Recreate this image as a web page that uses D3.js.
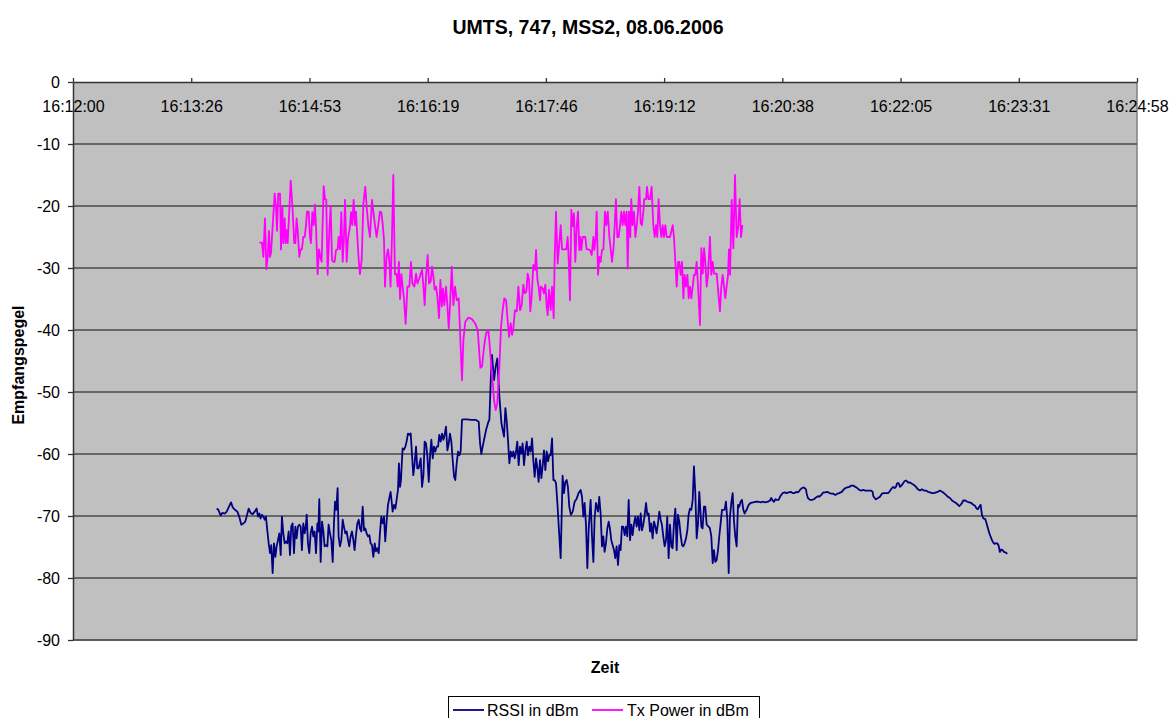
<!DOCTYPE html>
<html><head><meta charset="utf-8">
<script src="https://cdn.jsdelivr.net/npm/d3@7"></script>
<style>body{margin:0;background:#fff}svg{display:block}text{font-family:Arial,"Liberation Sans",sans-serif;fill:#000}</style>
</head><body><svg id="c" width="1176" height="718"></svg>
<script>
const chartTitle = "UMTS, 747, MSS2, 08.06.2006";
const yTitle = "Empfangspegel";
const xTitle = "Zeit";
const seriesNames = ["RSSI in dBm", "Tx Power in dBm"];
const seriesColors = ["#000080", "#FF00FF"];
const yTicks = [0, -10, -20, -30, -40, -50, -60, -70, -80, -90];
// seconds after 16:12:00
const xTickSeconds = [0, 86.4, 172.8, 259.2, 345.6, 432, 518.4, 604.8, 691.2, 777.6];
const xTickLabels = ["16:12:00", "16:13:26", "16:14:53", "16:16:19", "16:17:46", "16:19:12", "16:20:38", "16:22:05", "16:23:31", "16:24:58"];

// [seconds after 16:12:00, dBm]
const rssi = [
[105.0,-68.8],[106.2,-69.0],[107.9,-69.9],[109.1,-69.5],[111.1,-69.6],[112.3,-69.3],[114.0,-68.5],[115.5,-67.8],[116.7,-68.6],[118.4,-69.0],[120.1,-69.3],[121.5,-70.1],[123.0,-71.4],[124.5,-71.2],[125.9,-70.9],[126.9,-70.1],[128.4,-68.8],[129.8,-69.5],[131.3,-69.7],[132.8,-69.3],[134.2,-68.8],[135.2,-70.1],[136.2,-69.6],[137.1,-70.4],[138.1,-69.8],[139.1,-70.1],[140.1,-70.6],[141.0,-70.1],[142.0,-72.3],[143.0,-74.4],[144.0,-76.0],[144.9,-74.7],[145.9,-79.2],[146.9,-74.4],[147.9,-76.6],[148.8,-74.9],[149.8,-73.9],[150.8,-72.8],[151.8,-76.3],[152.7,-70.1],[153.7,-72.8],[154.7,-74.4],[155.6,-74.1],[156.6,-74.4],[157.6,-72.5],[158.6,-76.3],[159.5,-71.7],[160.5,-71.2],[161.5,-76.0],[162.5,-71.7],[163.4,-73.6],[164.4,-71.7],[165.4,-71.4],[166.4,-71.7],[167.3,-75.5],[168.3,-71.2],[169.3,-72.8],[170.0,-72.0],[170.8,-69.8],[171.7,-74.4],[172.7,-76.0],[173.7,-72.8],[174.7,-71.7],[175.6,-73.3],[176.6,-72.5],[177.6,-76.0],[178.6,-71.2],[179.3,-72.5],[180.0,-67.3],[181.0,-77.4],[182.0,-70.9],[182.9,-72.3],[183.9,-74.9],[184.9,-74.7],[185.9,-74.9],[186.8,-71.4],[187.8,-72.8],[188.8,-73.9],[189.8,-77.4],[190.7,-71.2],[191.5,-67.7],[192.4,-69.0],[193.4,-65.5],[194.1,-73.3],[195.1,-74.9],[196.1,-73.9],[197.1,-70.6],[198.0,-71.7],[199.0,-72.8],[200.0,-72.5],[201.0,-73.9],[201.9,-74.9],[202.9,-73.3],[203.9,-72.5],[204.9,-73.9],[205.8,-75.5],[206.8,-73.1],[207.8,-71.2],[208.8,-70.6],[209.7,-72.0],[210.7,-72.5],[211.7,-68.5],[212.7,-72.3],[213.6,-72.0],[214.6,-72.8],[215.6,-73.3],[216.6,-73.1],[217.5,-74.4],[218.5,-74.7],[219.5,-76.6],[220.5,-74.4],[221.4,-75.7],[222.4,-75.2],[223.4,-76.0],[224.3,-72.8],[225.3,-70.1],[226.3,-71.2],[227.3,-70.1],[228.2,-74.1],[229.2,-70.9],[230.2,-68.2],[231.2,-67.1],[232.1,-66.1],[232.9,-67.7],[233.6,-69.3],[234.6,-68.2],[235.6,-68.8],[236.5,-67.4],[237.5,-65.8],[238.2,-61.5],[239.0,-65.3],[239.7,-64.2],[240.4,-61.0],[240.9,-59.1],[241.9,-59.3],[242.9,-58.8],[243.8,-58.0],[244.8,-56.7],[245.8,-56.9],[246.8,-56.7],[247.7,-59.9],[248.7,-63.4],[249.7,-61.5],[250.7,-58.8],[251.6,-62.3],[252.6,-62.3],[254.1,-60.7],[255.1,-65.3],[256.1,-63.4],[257.0,-58.0],[258.0,-58.3],[259.0,-60.4],[260.0,-64.5],[260.9,-60.4],[261.9,-57.7],[262.9,-60.7],[263.8,-58.8],[264.8,-59.6],[265.8,-58.8],[266.8,-58.8],[267.7,-56.9],[268.7,-58.0],[269.7,-56.7],[270.7,-57.7],[271.6,-56.9],[272.6,-55.6],[273.6,-59.4],[274.6,-58.3],[275.5,-56.7],[276.5,-58.0],[277.5,-61.0],[278.5,-63.7],[279.4,-64.2],[280.4,-61.5],[281.4,-59.6],[282.4,-60.2],[283.3,-59.6],[284.3,-54.5],[285.3,-54.4],[287.7,-54.4],[291.4,-54.5],[294.5,-54.5],[296.5,-54.8],[297.5,-58.3],[298.4,-60.0],[299.4,-58.8],[300.4,-57.7],[301.9,-56.1],[303.6,-54.8],[304.3,-54.5],[305.3,-48.1],[306.2,-44.0],[307.7,-48.1],[308.9,-45.9],[310.1,-44.6],[311.6,-50.7],[313.1,-55.0],[314.0,-56.1],[315.0,-57.2],[316.0,-52.6],[317.0,-54.8],[317.9,-57.7],[318.9,-61.5],[319.9,-59.6],[320.9,-60.4],[321.8,-59.6],[322.8,-60.7],[323.8,-59.6],[324.7,-58.0],[325.7,-61.8],[326.7,-58.8],[327.7,-59.9],[328.6,-58.3],[329.6,-61.8],[330.6,-59.4],[331.6,-58.0],[332.5,-60.2],[333.5,-58.8],[334.5,-59.6],[335.5,-57.5],[336.4,-61.0],[337.4,-63.7],[338.4,-60.7],[339.4,-62.3],[340.3,-64.5],[341.3,-61.0],[342.3,-63.9],[343.3,-61.8],[344.2,-59.4],[345.2,-62.6],[346.2,-59.6],[347.2,-61.2],[348.1,-60.2],[349.1,-60.2],[350.1,-57.5],[351.1,-64.2],[352.0,-64.2],[353.0,-64.7],[354.0,-67.9],[355.0,-71.7],[356.4,-76.8],[357.8,-63.5],[358.8,-66.3],[359.8,-64.5],[360.8,-64.2],[361.7,-65.3],[362.7,-68.5],[363.9,-69.8],[365.2,-69.3],[366.6,-67.7],[368.1,-67.2],[369.5,-66.3],[371.0,-65.8],[372.0,-66.9],[373.0,-70.1],[373.9,-67.9],[374.9,-71.4],[375.9,-78.4],[376.9,-72.0],[378.3,-67.4],[379.3,-73.3],[380.3,-77.4],[381.2,-70.4],[382.2,-67.9],[383.7,-69.3],[384.6,-66.9],[385.6,-69.6],[386.6,-74.9],[387.6,-73.3],[388.5,-75.8],[389.5,-74.4],[390.5,-72.0],[391.5,-70.9],[392.4,-72.0],[393.4,-73.9],[394.4,-74.7],[395.4,-75.5],[396.3,-76.8],[397.3,-74.9],[398.3,-77.9],[399.3,-74.7],[400.2,-75.5],[401.2,-71.7],[402.2,-71.7],[403.2,-73.1],[404.1,-71.7],[405.1,-73.3],[406.1,-67.4],[407.1,-73.9],[408.0,-71.4],[409.0,-73.1],[410.0,-71.2],[411.0,-70.1],[411.9,-71.7],[412.9,-70.1],[413.9,-72.3],[414.9,-69.6],[415.8,-72.3],[416.8,-71.4],[417.8,-69.8],[418.8,-67.9],[419.7,-69.8],[420.7,-69.6],[421.7,-72.5],[422.6,-71.2],[423.6,-73.6],[424.6,-70.9],[425.6,-71.7],[426.5,-72.8],[427.5,-71.2],[428.5,-69.3],[429.5,-70.6],[430.4,-71.4],[431.4,-73.3],[432.4,-74.9],[433.4,-73.9],[434.3,-70.1],[435.3,-76.8],[436.3,-71.4],[437.3,-74.9],[438.2,-75.2],[439.2,-71.2],[440.2,-68.8],[441.2,-75.5],[442.1,-69.8],[443.1,-70.9],[444.1,-73.1],[445.1,-74.7],[446.0,-74.9],[447.0,-74.4],[448.0,-73.6],[449.0,-72.3],[449.9,-69.8],[450.9,-68.8],[451.9,-69.0],[452.9,-67.4],[453.8,-62.0],[454.8,-66.3],[455.8,-73.6],[456.8,-71.2],[457.7,-66.1],[459.2,-71.7],[460.1,-72.0],[461.1,-68.5],[462.1,-68.5],[463.1,-71.4],[464.5,-71.7],[465.5,-72.0],[466.5,-73.3],[467.5,-77.6],[468.4,-75.5],[469.4,-77.4],[470.4,-77.1],[471.4,-75.5],[472.3,-73.3],[473.3,-71.2],[474.3,-69.0],[475.3,-69.0],[476.2,-69.0],[477.2,-67.7],[478.2,-70.6],[479.2,-79.2],[480.1,-70.1],[481.1,-67.9],[482.1,-66.3],[483.0,-70.6],[484.0,-73.3],[485.0,-74.9],[486.0,-68.2],[486.9,-68.5],[487.9,-67.7],[488.9,-67.4],[489.9,-69.0],[490.8,-69.6],[492.3,-69.0],[493.8,-68.2],[495.2,-67.9],[497.2,-67.8],[499.1,-67.7],[501.1,-67.7],[502.5,-67.8],[504.0,-67.7],[505.9,-67.8],[507.9,-67.7],[509.4,-67.5],[510.3,-67.1],[511.3,-67.5],[512.3,-67.7],[513.3,-67.3],[514.2,-67.4],[515.7,-67.4],[516.7,-66.9],[517.6,-66.6],[518.6,-66.3],[520.1,-66.2],[521.5,-66.3],[523.0,-66.2],[524.5,-66.1],[525.9,-66.3],[527.4,-66.3],[528.4,-66.1],[529.3,-66.2],[530.3,-66.1],[531.3,-65.8],[532.7,-65.5],[534.2,-65.4],[535.7,-65.7],[536.2,-66.4],[537.1,-67.1],[538.6,-67.4],[540.1,-67.4],[541.5,-67.3],[543.0,-67.0],[544.4,-66.8],[545.4,-66.9],[546.9,-66.6],[548.3,-66.2],[549.8,-66.2],[551.3,-66.1],[552.7,-66.3],[554.2,-66.4],[555.6,-66.4],[557.1,-66.6],[558.6,-66.4],[560.0,-66.3],[561.0,-66.2],[562.0,-66.1],[562.9,-65.8],[564.4,-65.5],[565.9,-65.4],[567.3,-65.3],[568.8,-65.1],[570.3,-65.1],[571.7,-65.3],[573.2,-65.5],[574.6,-65.8],[576.1,-65.9],[577.6,-65.8],[579.0,-65.9],[580.5,-65.9],[582.0,-65.9],[583.4,-65.9],[584.4,-66.1],[584.9,-66.8],[585.9,-67.1],[586.8,-67.3],[588.3,-67.1],[589.7,-66.9],[591.2,-66.4],[592.7,-66.3],[594.1,-66.3],[595.6,-66.3],[596.6,-66.1],[597.5,-65.8],[598.5,-65.5],[599.5,-65.3],[600.5,-65.5],[601.4,-65.3],[602.4,-64.7],[603.4,-64.7],[604.4,-65.3],[605.8,-65.0],[607.3,-64.5],[608.3,-64.3],[609.2,-64.3],[610.2,-64.6],[611.7,-64.6],[613.1,-64.8],[614.6,-65.0],[616.1,-65.3],[617.5,-65.7],[619.0,-65.9],[620.4,-65.7],[621.9,-65.9],[623.4,-65.9],[624.8,-66.1],[626.3,-66.2],[627.8,-66.3],[629.2,-66.3],[630.7,-66.2],[632.1,-66.1],[633.6,-65.9],[635.1,-66.1],[636.5,-66.3],[638.0,-66.6],[639.4,-66.9],[640.9,-67.1],[642.4,-67.5],[643.8,-67.7],[645.3,-67.9],[646.8,-68.2],[647.7,-68.4],[648.7,-68.2],[649.7,-67.9],[650.6,-67.5],[652.1,-67.5],[653.6,-67.7],[655.0,-67.8],[656.5,-67.9],[658.0,-68.2],[659.4,-68.4],[660.4,-68.8],[661.4,-68.9],[662.3,-68.5],[663.3,-68.2],[664.3,-69.8],[665.3,-70.4],[666.7,-70.5],[667.7,-71.2],[668.7,-72.0],[669.7,-72.8],[670.6,-73.3],[671.6,-73.9],[672.6,-74.3],[673.5,-74.5],[674.5,-74.4],[675.5,-74.4],[676.5,-74.8],[677.4,-75.8],[678.4,-75.4],[679.4,-75.5],[680.4,-75.8],[681.8,-75.9],[682.8,-76.1]
];

const tx = [
[136.2,-25.9],[138.1,-25.9],[139.1,-28.2],[140.3,-22.0],[141.3,-30.2],[142.3,-28.2],[143.2,-24.0],[144.0,-28.2],[144.7,-27.6],[145.9,-23.3],[147.4,-18.0],[148.3,-20.1],[149.1,-24.0],[150.0,-18.0],[151.3,-18.0],[152.0,-27.0],[153.0,-20.0],[153.7,-26.0],[154.7,-22.0],[155.4,-26.0],[156.1,-23.9],[156.9,-26.0],[158.1,-20.6],[159.1,-15.9],[160.5,-20.6],[161.7,-26.0],[162.5,-26.0],[163.4,-22.0],[164.2,-23.9],[165.4,-28.2],[166.4,-27.0],[167.3,-27.0],[168.3,-25.0],[169.3,-25.0],[170.3,-23.1],[171.0,-20.9],[172.2,-20.9],[173.2,-25.0],[173.9,-26.0],[174.9,-21.0],[175.9,-23.1],[176.8,-19.8],[177.6,-23.3],[178.8,-31.0],[179.8,-27.0],[180.7,-28.2],[181.7,-29.0],[183.2,-16.8],[184.2,-18.9],[185.1,-19.0],[186.1,-31.1],[187.3,-24.1],[188.3,-20.0],[189.3,-28.7],[190.2,-29.0],[191.2,-29.0],[192.2,-27.1],[193.4,-27.0],[194.1,-25.0],[195.1,-27.0],[196.1,-21.0],[197.1,-29.0],[198.0,-25.2],[198.8,-19.0],[200.0,-29.0],[201.0,-25.2],[202.4,-23.3],[203.2,-21.0],[204.1,-23.1],[205.1,-19.0],[206.1,-23.1],[206.8,-20.9],[207.8,-25.0],[208.8,-28.7],[209.7,-31.0],[211.0,-28.7],[212.2,-19.6],[213.6,-16.9],[214.6,-20.0],[215.8,-23.1],[217.0,-25.0],[217.5,-23.1],[218.5,-19.0],[219.5,-20.9],[220.7,-23.1],[221.9,-25.0],[223.1,-23.1],[224.3,-20.9],[225.3,-21.0],[226.3,-22.8],[227.3,-25.5],[228.0,-33.0],[229.2,-28.2],[230.2,-27.0],[231.2,-29.0],[232.1,-33.0],[233.1,-25.0],[234.1,-15.0],[234.8,-25.0],[235.3,-31.0],[236.5,-31.0],[237.3,-33.0],[238.2,-29.0],[239.0,-35.0],[240.0,-31.0],[240.9,-33.0],[241.9,-35.0],[243.1,-39.0],[244.4,-33.0],[245.8,-33.0],[247.0,-29.0],[248.0,-32.5],[249.5,-33.0],[250.7,-30.9],[251.7,-32.5],[253.1,-31.7],[254.1,-30.9],[255.1,-30.3],[256.1,-33.0],[257.0,-36.0],[258.0,-31.4],[259.2,-27.9],[260.2,-32.5],[261.4,-32.2],[262.4,-29.8],[263.4,-31.4],[264.3,-33.5],[265.3,-33.0],[266.3,-34.6],[267.5,-38.1],[268.5,-31.9],[269.5,-36.2],[270.4,-33.3],[271.4,-36.0],[272.6,-33.0],[273.6,-36.0],[274.6,-39.7],[275.5,-36.2],[276.8,-29.8],[278.0,-36.0],[279.2,-33.0],[280.4,-35.2],[281.9,-34.9],[282.8,-40.0],[284.3,-48.1],[285.3,-41.6],[286.7,-38.7],[288.9,-38.0],[291.4,-38.2],[293.8,-38.9],[295.8,-40.0],[297.7,-46.1],[298.9,-45.9],[300.4,-42.7],[301.9,-40.5],[303.6,-40.0],[304.8,-43.2],[306.2,-47.0],[307.7,-51.3],[308.9,-52.9],[310.1,-51.8],[311.6,-45.9],[312.8,-39.5],[314.0,-36.8],[315.2,-34.9],[316.5,-35.2],[317.4,-37.8],[318.7,-41.1],[319.9,-38.9],[320.9,-40.8],[321.8,-39.7],[323.0,-36.8],[324.3,-37.0],[325.5,-33.0],[326.7,-36.8],[327.9,-36.0],[329.1,-32.7],[330.1,-34.1],[331.3,-33.8],[332.3,-30.9],[333.3,-31.9],[334.2,-37.0],[335.2,-34.6],[336.4,-29.5],[337.7,-30.3],[338.4,-27.1],[339.4,-31.9],[340.3,-33.0],[341.3,-35.2],[342.0,-33.0],[343.3,-33.3],[344.2,-34.1],[345.2,-32.7],[346.2,-36.2],[346.9,-37.6],[347.9,-33.5],[349.1,-36.8],[350.1,-33.0],[351.3,-38.1],[352.0,-28.7],[353.0,-20.9],[354.2,-29.3],[355.4,-26.0],[356.4,-23.1],[357.4,-27.0],[358.4,-27.0],[359.6,-27.0],[360.5,-27.0],[361.5,-25.0],[362.3,-28.7],[363.2,-35.2],[364.2,-20.6],[365.2,-23.3],[366.1,-21.2],[367.1,-29.0],[368.1,-23.3],[369.1,-20.9],[370.0,-27.1],[370.8,-25.0],[371.5,-27.1],[372.5,-25.0],[373.5,-25.0],[374.4,-25.0],[375.4,-27.0],[376.6,-27.0],[377.8,-27.1],[379.1,-27.9],[380.3,-25.0],[381.0,-27.1],[382.0,-25.0],[382.7,-20.9],[383.7,-31.1],[384.7,-28.2],[385.6,-29.0],[386.6,-27.1],[387.6,-27.0],[388.8,-20.9],[389.8,-23.1],[390.8,-20.9],[392.0,-25.0],[392.9,-26.8],[393.9,-29.0],[394.9,-27.1],[395.9,-23.1],[396.8,-18.9],[397.8,-25.0],[398.8,-25.0],[399.8,-23.1],[400.7,-20.9],[401.7,-23.1],[402.7,-20.9],[403.7,-23.1],[404.6,-20.9],[405.4,-30.1],[406.3,-20.9],[407.3,-25.0],[408.0,-18.9],[409.0,-23.1],[410.0,-20.9],[411.0,-25.0],[412.0,-23.1],[412.9,-20.9],[413.9,-16.9],[414.9,-22.8],[415.8,-23.1],[416.8,-20.9],[417.5,-18.9],[418.8,-18.9],[419.5,-16.9],[420.5,-18.9],[421.7,-18.9],[422.9,-16.9],[424.1,-23.1],[425.1,-25.0],[426.1,-23.1],[427.0,-25.0],[428.0,-18.9],[429.0,-23.1],[430.0,-25.0],[431.0,-23.1],[431.9,-25.0],[432.9,-23.1],[433.9,-25.0],[435.1,-25.0],[436.3,-25.0],[438.3,-23.1],[439.2,-25.0],[440.2,-29.0],[441.2,-33.0],[442.2,-29.0],[443.1,-29.0],[444.1,-31.1],[445.1,-29.0],[446.1,-34.9],[447.0,-31.1],[448.0,-33.0],[449.0,-31.1],[450.0,-34.9],[450.9,-33.0],[451.9,-34.9],[452.9,-33.0],[453.8,-31.1],[454.8,-31.1],[455.8,-29.0],[456.8,-33.0],[458.2,-39.2],[459.2,-26.8],[460.2,-30.9],[461.2,-26.8],[462.1,-29.0],[463.1,-33.0],[464.1,-31.1],[465.5,-25.0],[466.5,-31.1],[467.5,-29.0],[468.5,-30.9],[470.4,-30.9],[472.8,-37.0],[473.8,-33.0],[474.8,-31.1],[475.8,-33.0],[476.7,-34.9],[477.7,-33.0],[478.7,-31.1],[479.4,-27.0],[480.2,-31.1],[481.4,-19.0],[482.6,-26.8],[483.8,-15.0],[485.0,-25.0],[486.2,-23.3],[487.2,-18.9],[488.2,-25.0],[489.2,-23.1]
];

const series = [rssi, tx];

const svg = d3.select("#c");
const plot = {left: 73, right: 1137, top: 82, bottom: 640};
const x = d3.scaleLinear().domain([xTickSeconds[0], xTickSeconds[xTickSeconds.length - 1]]).range([plot.left, plot.right]);
const y = d3.scaleLinear().domain([-90, 0]).range([plot.bottom, plot.top]);

svg.append("rect").attr("width", 1176).attr("height", 718).attr("fill", "#fff");

// plot area
svg.append("rect").attr("x", plot.left).attr("y", plot.top)
  .attr("width", plot.right - plot.left).attr("height", plot.bottom - plot.top)
  .attr("fill", "#C0C0C0");
svg.append("path")
  .attr("d", `M${plot.right},${plot.top}V${plot.bottom}H${plot.left}`)
  .attr("fill", "none").attr("stroke", "#808080").attr("stroke-width", 1.5);

// gridlines
svg.append("g").selectAll("line").data(yTicks.filter(v => v !== 0)).join("line")
  .attr("x1", plot.left).attr("x2", plot.right)
  .attr("y1", d => y(d)).attr("y2", d => y(d))
  .attr("stroke", "#4a4a4a").attr("stroke-width", 1.3);

// series
const line = d3.line().x(d => x(d[0])).y(d => y(d[1]));
series.forEach((s, i) => {
  svg.append("path").datum(s).attr("d", line)
    .attr("fill", "none").attr("stroke", seriesColors[i])
    .attr("stroke-width", 1.8).attr("stroke-linejoin", "round");
});

// y axis
const yAxis = svg.append("g").attr("transform", `translate(${plot.left},0)`)
  .call(d3.axisLeft(y).tickValues(yTicks).tickFormat(d => d === 0 ? "0" : "-" + Math.abs(d)).tickSize(5).tickPadding(8).tickSizeOuter(0));
yAxis.select(".domain").attr("stroke", "#333").attr("stroke-width", 1.5);
yAxis.selectAll(".tick line").attr("stroke", "#333").attr("stroke-width", 1.3);
yAxis.selectAll("text").attr("font-size", 16).attr("font-family", "Arial, 'Liberation Sans', sans-serif").attr("fill", "#000");

// x axis at top (y = 0)
const xAxis = svg.append("g").attr("transform", `translate(0,${y(0)})`)
  .call(d3.axisTop(x).tickValues(xTickSeconds).tickFormat((d, i) => xTickLabels[i]).tickSize(4).tickSizeOuter(0));
xAxis.select(".domain").attr("stroke", "#333").attr("stroke-width", 1.5);
xAxis.selectAll(".tick line").attr("stroke", "#333").attr("stroke-width", 1.3);
xAxis.selectAll("text").attr("y", 29.5).attr("dy", 0)
  .attr("font-size", 16).attr("font-family", "Arial, 'Liberation Sans', sans-serif").attr("fill", "#000");

// titles
svg.append("text").attr("x", 588).attr("y", 34).attr("text-anchor", "middle")
  .attr("font-size", 19.5).attr("font-weight", "bold").text(chartTitle);
svg.append("text").attr("transform", `translate(24,${(plot.top + plot.bottom) / 2 + 4}) rotate(-90)`)
  .attr("text-anchor", "middle").attr("font-size", 16).attr("font-weight", "bold").text(yTitle);
svg.append("text").attr("x", (plot.left + plot.right) / 2).attr("y", 673).attr("text-anchor", "middle")
  .attr("font-size", 16).attr("font-weight", "bold").text(xTitle);

// legend
const lg = svg.append("g");
lg.append("rect").attr("x", 448.5).attr("y", 696.5).attr("width", 311).attr("height", 30)
  .attr("fill", "#fff").attr("stroke", "#000").attr("stroke-width", 1);
const legendItems = [{lx: 453, tx: 487}, {lx: 592, tx: 627}];
seriesNames.forEach((n, i) => {
  lg.append("line").attr("x1", legendItems[i].lx).attr("x2", legendItems[i].lx + 31)
    .attr("y1", 710).attr("y2", 710).attr("stroke", seriesColors[i]).attr("stroke-width", 1.8);
  lg.append("text").attr("x", legendItems[i].tx).attr("y", 716).attr("font-size", 16).text(n);
});
</script></body></html>
